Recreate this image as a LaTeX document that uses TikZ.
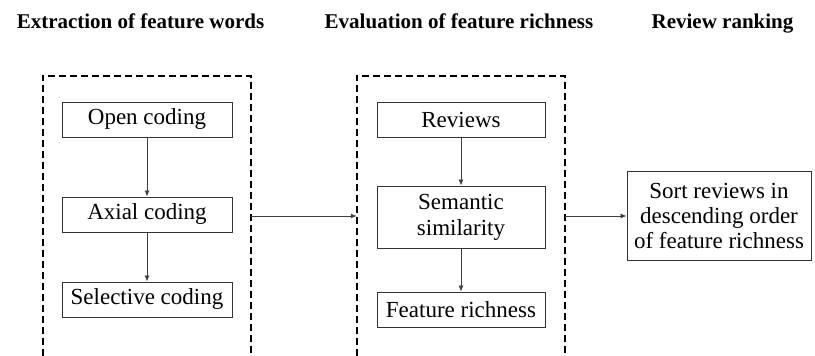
\documentclass[tikz,border=0pt]{standalone}
\usepackage{fontspec}
\setmainfont{Liberation Serif}
\usetikzlibrary{arrows.meta}
\tikzset{
  stagebox/.style={draw=black!80, line width=0.9pt, minimum height=35pt,
    inner sep=2pt, align=center, font=\fontsize{23}{26}\selectfont},
  frame/.style={minimum width=208pt, minimum height=280pt, inner sep=0pt},
  framecut/.style={line width=1.6pt, dash pattern=on 7pt off 4pt},
  flow/.style={draw=black!75, line width=0.8pt, -{Latex[length=6pt,width=5pt]}},
  heading/.style={anchor=base, font=\fontsize{21}{24}\selectfont\bfseries}
}
\begin{document}
\begin{tikzpicture}[x=1pt,y=-1pt]
  \useasboundingbox (0,0) rectangle (815,356);

  % column headings
  \node[heading] (h1) at (140.5,28.5) {Extraction of feature words};
  \node[heading] (h2) at (459,28.5) {Evaluation of feature richness};
  \node[heading] (h3) at (722.5,28.5) {Review ranking};

  % dashed frames, open at the bottom
  \node[frame] (fa) at (147,216) {};
  \node[frame] (fb) at (461,216) {};
  \draw[framecut] (fa.south west) -- (fa.north west) -- (fa.north east) -- (fa.south east);
  \draw[framecut] (fb.south west) -- (fb.north west) -- (fb.north east) -- (fb.south east);

  % feature word extraction
  \node[stagebox, minimum width=170pt] (open) at (147,119.5) {Open coding};
  \node[stagebox, minimum width=170pt] (axial) at (147,214.5) {Axial coding};
  \node[stagebox, minimum width=170pt] (sel) at (147,299.5) {Selective coding};

  % feature richness evaluation
  \node[stagebox, minimum width=168pt] (rev) at (461,119.5) {Reviews};
  \node[stagebox, minimum width=168pt, minimum height=62pt] (sem) at (461,217) {Semantic\\similarity};
  \node[stagebox, minimum width=168pt] (rich) at (461,309.5) {Feature richness};

  % ranking
  \node[stagebox, minimum width=184pt, minimum height=89pt, inner sep=3pt,
        font=\fontsize{23}{25}\selectfont] (sort) at (719,216)
    {Sort reviews in\\descending order\\of feature richness};

  % connectors
  \draw[flow] (open) -- (axial);
  \draw[flow] (axial) -- (sel);
  \draw[flow] (rev) -- (sem);
  \draw[flow] (sem) -- (rich);
  \draw[flow] (fa.east) -- (fb.west);
  \draw[flow] (fb.east) -- (fb.east -| sort.west);
\end{tikzpicture}
\end{document}
